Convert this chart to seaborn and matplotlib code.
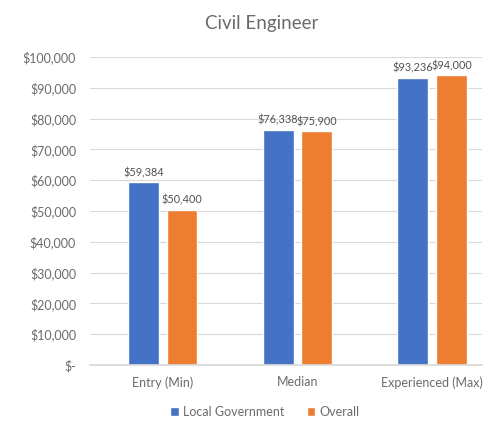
import matplotlib
matplotlib.use("Agg")
import matplotlib.pyplot as plt
import seaborn as sns
import pandas as pd
from matplotlib.ticker import FuncFormatter, MultipleLocator

categories = ["Entry (Min)", "Median", "Experienced (Max)"]
series_names = ["Local Government", "Overall"]
local_gov = [59384, 76338, 93236]
overall = [50400, 75900, 94000]
colors = ["#4472C4", "#ED7D31"]

df = pd.DataFrame({
    "Level": categories * 2,
    "Sector": [series_names[0]] * 3 + [series_names[1]] * 3,
    "Salary": local_gov + overall,
})

sns.set_theme(style="white")
plt.rcParams["font.family"] = ["Lato", "DejaVu Sans"]
text_grey = "#6b6b6b"

fig = plt.figure(figsize=(4.9, 4.3), dpi=100)
ax = fig.add_axes([90 / 490, 65 / 430, 392 / 490, 308 / 430])

sns.barplot(data=df, x="Level", y="Salary", hue="Sector", order=categories,
            hue_order=series_names, palette=colors, width=0.572, gap=0.2,
            saturation=1, ax=ax, legend=True)

ax.set_xlim(-0.54, 2.37)
ax.set_ylim(0, 100000)
ax.yaxis.set_major_locator(MultipleLocator(10000))
ax.yaxis.set_major_formatter(FuncFormatter(lambda v, p: "$-" if v == 0 else f"${v:,.0f}"))
ax.grid(axis="y", color="#D9D9D9", linewidth=0.8)
ax.set_axisbelow(True)
for s in ["top", "right", "left"]:
    ax.spines[s].set_visible(False)
ax.spines["bottom"].set_color("#D9D9D9")
ax.tick_params(axis="both", length=0, colors=text_grey, labelsize=9)
ax.tick_params(axis="x", pad=8)
ax.tick_params(axis="y", pad=10)
ax.set_xlabel("")
ax.set_ylabel("")

for container in ax.containers:
    ax.bar_label(container, labels=[f"${v:,.0f}" for v in container.datavalues],
                 padding=3, fontsize=7.8, color="#505050")

fig.text(262 / 490, 1 - 24 / 430, "Civil Engineer", fontsize=13.5,
         color=text_grey, ha="center", va="center")

leg = ax.legend(loc="upper center", bbox_to_anchor=(0.446, -0.095), ncol=2,
                frameon=False, fontsize=9, handlelength=0.7, handleheight=0.7,
                handletextpad=0.3, columnspacing=1.8)
for t in leg.get_texts():
    t.set_color(text_grey)

fig.savefig("out.png", dpi=100)
